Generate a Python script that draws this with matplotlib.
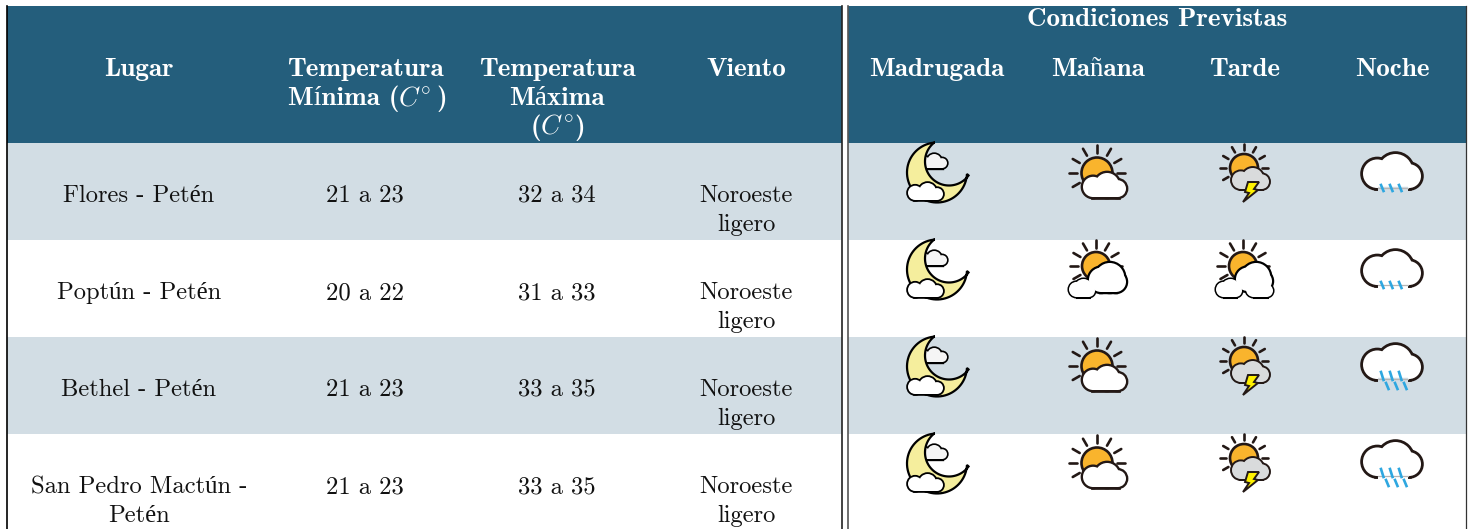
import numpy as np
import matplotlib
matplotlib.use("Agg")
import matplotlib.pyplot as plt
from matplotlib.patches import Circle, Rectangle, Polygon

plt.rcParams['mathtext.fontset'] = 'cm'
plt.rcParams['axes.unicode_minus'] = False

# table content
lugares = ["Flores - Petén", "Poptún - Petén", "Bethel - Petén", "San Pedro Mactún -\nPetén"]
temp_min = ["21 a 23", "20 a 22", "21 a 23", "21 a 23"]
temp_max = ["32 a 34", "31 a 33", "33 a 35", "33 a 35"]
viento = ["Noroeste\nligero"] * 4

header_left = ["Lugar", "Temperatura", "Temperatura\nMáxima\n($C^{\\circ}$)", "Viento"]
header_right = ["Madrugada", "Mañana", "Tarde", "Noche"]
header_top = "Condiciones Previstas"

madrugada = ["moon", "moon", "moon", "moon"]
manana = ["sun", "sun2", "sun", "sun"]
tarde = ["storm", "sun3", "storm", "storm"]
noche = ["rain", "rain", "rain2", "rain2"]

# layout in pixels
W, H = 1471, 529
col_x = [139, 365, 557, 746]
icon_x = [937, 1098, 1245, 1392]
row_top = [143, 240, 337, 434]
row_bottom = [240, 337, 434, 529]
line_h = 29

HEAD = "#245e7c"
BAND = "#d2dde4"
INK = "#231815"

REG = ['cmr10', 'Liberation Serif']
BOLD = ['cmb10', 'Liberation Serif']

fig = plt.figure(figsize=(W / 100, H / 100), dpi=100)
ax = fig.add_axes([0, 0, 1, 1])
ax.set_xlim(0, W)
ax.set_ylim(H, 0)
ax.axis("off")


def lines(x, y, s, **kw):
    for i, part in enumerate(s.split("\n")):
        ax.text(x, y + i * line_h, part, ha="center", va="baseline", **kw)


def cloud(x0, x1, y0, y1, fc="white", lw=3.0, ec="black", z=5):
    h = y1 - y0
    w = x1 - x0
    rl, rr, rm = 0.42 * h, 0.35 * h, 0.5 * h
    lobes = [(x0 + rl, y1 - rl, rl), (x1 - rr, y1 - rr, rr), (x0 + 0.56 * w, y0 + rm, rm)]
    for cx, cy, r in lobes:
        ax.add_patch(Circle((cx, cy), r, fc=ec, ec=ec, lw=lw, zorder=z))
    ax.add_patch(Rectangle((x0 + rl, y1 - rl), w - rl - rr, rl, fc=ec, ec=ec, lw=lw, zorder=z))
    for cx, cy, r in lobes:
        ax.add_patch(Circle((cx, cy), r, fc=fc, ec="none", zorder=z + 0.1))
    ax.add_patch(Rectangle((x0 + rl, y0 + rm * 0.8), w - rl - rr, y1 - y0 - rm * 0.8, fc=fc, ec="none", zorder=z + 0.1))


def sun(cx, cy, r, r1, r2, lw=1.9):
    for a in [0, 30, 60, 90, 120, 150, 180, 210]:
        t = np.radians(a)
        ax.plot([cx + r1 * np.cos(t), cx + r2 * np.cos(t)],
                [cy - r1 * np.sin(t), cy - r2 * np.sin(t)],
                color=INK, lw=lw, solid_capstyle="round", zorder=3)
    ax.add_patch(Circle((cx, cy), r, fc="#f9b42d", ec=INK, lw=lw, zorder=3))


def moon(y):
    # cloud peeking out from behind the crescent
    cloud(918, 947, y + 11, y + 25, fc="#f5f5f5", lw=2.4, z=2)
    oc = np.array([937.0, y + 29.5])
    ic = np.array([949.0, y + 18.5])
    ro, ri = 30.0, 24.0
    tip1 = np.array([935.0, y + 0.5])
    tip2 = np.array([966.5, y + 31.0])
    a1 = np.arctan2(tip1[1] - oc[1], tip1[0] - oc[0])
    a2 = np.arctan2(tip2[1] - oc[1], tip2[0] - oc[0])
    # outer arc goes round the left and bottom
    outer = np.linspace(a1, a2 - 2 * np.pi, 60)
    b1 = np.arctan2(tip2[1] - ic[1], tip2[0] - ic[0])
    b2 = np.arctan2(tip1[1] - ic[1], tip1[0] - ic[0])
    inner = np.linspace(b1, b2 + (0 if b2 > b1 else 2 * np.pi), 60)
    px = np.r_[oc[0] + ro * np.cos(outer), ic[0] + ri * np.cos(inner)]
    py = np.r_[oc[1] + ro * np.sin(outer), ic[1] + ri * np.sin(inner)]
    ax.add_patch(Polygon(np.c_[px, py], closed=True, fc="#f5ee9d", ec="black", lw=1.6, zorder=4))
    cloud(908, 943, y + 40, y + 57, lw=2.6, z=5)


def bolt(x, y):
    pts = [(x - 1, y - 5), (x + 10, y - 5), (x + 5, y + 2), (x + 9, y + 3),
           (x - 6, y + 15), (x, y + 6), (x - 4, y + 5)]
    ax.add_patch(Polygon(pts, closed=True, fc="#fff100", ec=INK, lw=1.4, zorder=7))


def rain_cloud(y0, y1, rows, bg):
    cloud(1363, 1421, y0, y1, lw=4.0, ec=INK)
    # bottom of the cloud is open where the rain falls
    ax.plot([1378, 1408], [y1 + 1, y1 + 1], color=bg, lw=3.2, zorder=5.5, solid_capstyle="butt")
    ax.plot([1378, 1408], [y1, y1], color="#b5b5b5", lw=0.9, zorder=5.6)
    for dx, top, bot in rows:
        for k in range(3):
            xa = 1381 + dx + k * 9
            ax.plot([xa, xa + 2.5], [top, bot], color="#2ea7e0", lw=1.9, zorder=6)


def draw_icon(kind, i, x):
    top = row_top[i]
    bg = BAND if i % 2 == 0 else "white"
    if kind == "moon":
        moon(top)
    elif kind == "sun":
        cy = 173 + 97 * i - (1 if i >= 2 else 0)
        sun(1097, cy, 15.5, 20, 28)
        cloud(1083, 1126, cy, cy + 24, lw=3.4, ec=INK)
    elif kind == "sun2":
        sun(1096, top + 26, 14, 18, 26)
        cloud(1089, 1126, top + 23, top + 52, lw=3.2)
        cloud(1069, 1095, top + 39, top + 57, lw=2.2)
    elif kind == "sun3":
        sun(1243, top + 26, 14, 18, 26)
        cloud(1236, 1272, top + 23, top + 51, lw=3.2)
        cloud(1216, 1242, top + 39, top + 57, lw=2.2)
        cloud(1246, 1273, top + 39, top + 57, lw=2.2)
    elif kind == "storm":
        cy = 168 + 97 * i - (1 if i >= 2 else 0)
        sun(1244, cy, 14, 18, 24)
        cloud(1232, 1269, cy, cy + 21, fc="#d9dbdc", lw=2.8, ec=INK)
        bolt(1249, cy + 19)
    elif kind == "rain":
        y0 = 154 + 97 * i
        rain_cloud(y0, y0 + 34, [(0, y0 + 31, y0 + 37)], bg)
    elif kind == "rain2":
        y0 = 345 + 97 * (i - 2)
        rain_cloud(y0, y0 + 34, [(0, y0 + 27, y0 + 35), (5, y0 + 38, y0 + 44)], bg)


# backgrounds
ax.add_patch(Rectangle((7, 6), 835, 137, fc=HEAD, ec="none", zorder=0))
ax.add_patch(Rectangle((848, 6), 618, 137, fc=HEAD, ec="none", zorder=0))
for i in [0, 2]:
    ax.add_patch(Rectangle((7, row_top[i]), 835, row_bottom[i] - row_top[i], fc=BAND, ec="none", zorder=0))
    ax.add_patch(Rectangle((848, row_top[i]), 618, row_bottom[i] - row_top[i], fc=BAND, ec="none", zorder=0))

# vertical rules
ax.plot([7.5, 7.5], [6, H], color="black", lw=1.2, zorder=1)
ax.plot([842, 842], [6, H], color="#222222", lw=1.2, zorder=1)
ax.plot([848, 848], [6, H], color="#555555", lw=1.2, zorder=1)
ax.plot([1466, 1466], [6, H], color="#333333", lw=0.9, zorder=1)

# header text
fs = 17.7
fs_head = 19.5
for x, s in zip(col_x, header_left):
    lines(x, 76, s, family=BOLD, fontsize=fs_head, color="white", math_fontfamily="cm")
# the accent is not in the maths font, so this line goes in pieces
ax.text(288, 105, "Mínima (", family=BOLD, fontsize=fs_head, color="white", ha="left", va="baseline")
ax.text(398, 105, "$C^{\\circ}$", fontsize=fs_head, color="white", ha="left", va="baseline", math_fontfamily="cm")
ax.text(436, 105, ")", family=BOLD, fontsize=fs_head, color="white", ha="left", va="baseline")
for x, s in zip(icon_x, header_right):
    lines(x, 76, s, family=BOLD, fontsize=fs_head, color="white")
lines(1157, 26, header_top, family=BOLD, fontsize=fs_head, color="white")

# table rows
for i in range(4):
    y = row_top[i] + 59
    for x, col in zip(col_x, [lugares, temp_min, temp_max, viento]):
        lines(x, y, col[i], family=REG, fontsize=fs, color="#111111")
    for x, col in zip(icon_x, [madrugada, manana, tarde, noche]):
        draw_icon(col[i], i, x)

fig.savefig("out.png", dpi=100)
